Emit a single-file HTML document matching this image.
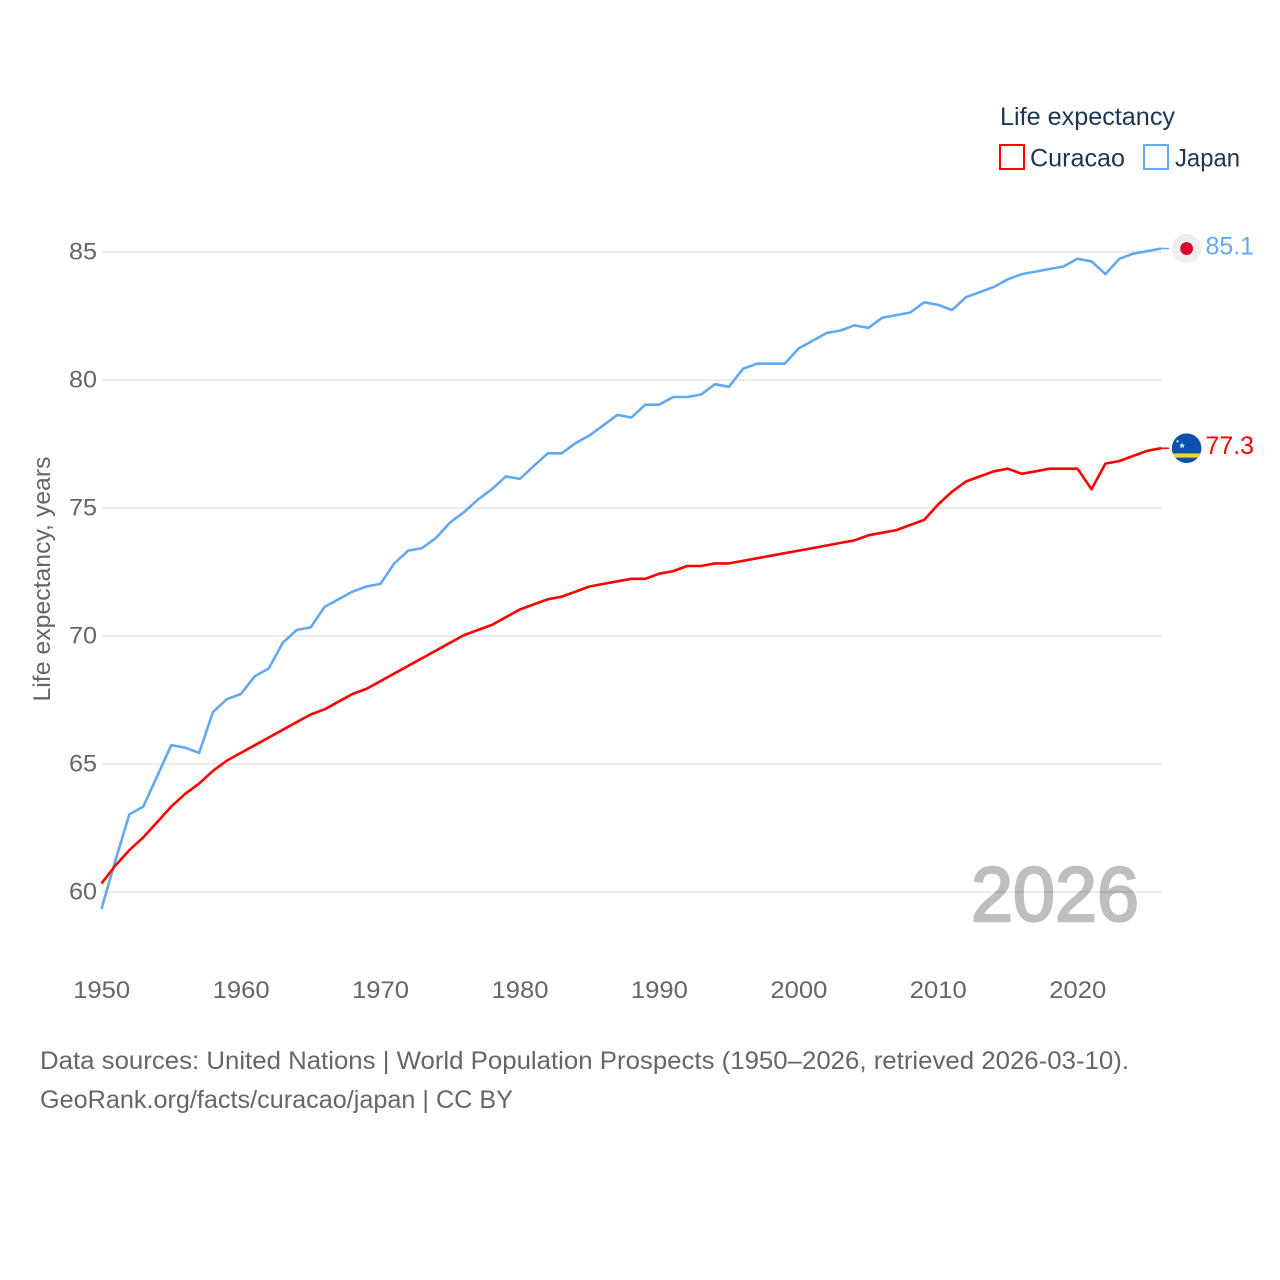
<!DOCTYPE html>
<html lang="en">
<head>
<meta charset="utf-8">
<title>Life expectancy: Curacao and Japan</title>
<style>
html,body{margin:0;padding:0;background:#fff;width:1280px;height:1280px;overflow:hidden}
svg{display:block;font-family:"Liberation Sans",sans-serif}
</style>
</head>
<body>
<svg id="chart" width="1280" height="1280" viewBox="0 0 1280 1280" xmlns="http://www.w3.org/2000/svg">
  <rect width="1280" height="1280" fill="#ffffff"/>
  <g id="grid"></g>
  <g id="yticks"></g>
  <g id="xticks"></g>
  <text transform="translate(50,579) rotate(-90)" text-anchor="middle" font-size="24" fill="#666666" textLength="245" lengthAdjust="spacingAndGlyphs">Life expectancy, years</text>
  <text id="yearLabel" x="1055" y="921" text-anchor="middle" font-size="77" fill="#000000" stroke="#000000" stroke-width="2.4" opacity="0.25" textLength="168" lengthAdjust="spacingAndGlyphs"></text>
  <g id="series" transform="translate(-0.5,-0.9)"></g>
  <g id="ends"></g>

  <g>
    <text x="1000" y="125" font-size="25" fill="#1c3553" textLength="175" lengthAdjust="spacingAndGlyphs">Life expectancy</text>
    <g>
      <rect x="1000" y="145" width="24" height="24" fill="#fff" stroke="#ff0000" stroke-width="2"/>
      <text x="1030" y="166.7" font-size="25" fill="#1c3553" textLength="95" lengthAdjust="spacingAndGlyphs">Curacao</text>
    </g>
    <g>
      <rect x="1144" y="145" width="24" height="24" fill="#fff" stroke="#62a9f0" stroke-width="2"/>
      <text x="1175" y="166.7" font-size="25" fill="#1c3553" textLength="65" lengthAdjust="spacingAndGlyphs">Japan</text>
    </g>
  </g>

  <text x="40" y="1069" font-size="25" fill="#666666" textLength="1089" lengthAdjust="spacingAndGlyphs">Data sources: United Nations | World Population Prospects (1950–2026, retrieved 2026-03-10).</text>
  <text x="40" y="1108" font-size="25" fill="#666666" textLength="473" lengthAdjust="spacingAndGlyphs">GeoRank.org/facts/curacao/japan | CC BY</text>
</svg>
<script>
const years = [1950,1951,1952,1953,1954,1955,1956,1957,1958,1959,1960,1961,1962,1963,1964,1965,1966,1967,1968,1969,1970,1971,1972,1973,1974,1975,1976,1977,1978,1979,1980,1981,1982,1983,1984,1985,1986,1987,1988,1989,1990,1991,1992,1993,1994,1995,1996,1997,1998,1999,2000,2001,2002,2003,2004,2005,2006,2007,2008,2009,2010,2011,2012,2013,2014,2015,2016,2017,2018,2019,2020,2021,2022,2023,2024,2025,2026];
const japanValues = [59.3,61.2,63.0,63.3,64.5,65.7,65.6,65.4,67.0,67.5,67.7,68.4,68.7,69.7,70.2,70.3,71.1,71.4,71.7,71.9,72.0,72.8,73.3,73.4,73.8,74.4,74.8,75.3,75.7,76.2,76.1,76.6,77.1,77.1,77.5,77.8,78.2,78.6,78.5,79.0,79.0,79.3,79.3,79.4,79.8,79.7,80.4,80.6,80.6,80.6,81.2,81.5,81.8,81.9,82.1,82.0,82.4,82.5,82.6,83.0,82.9,82.7,83.2,83.4,83.6,83.9,84.1,84.2,84.3,84.4,84.7,84.6,84.1,84.7,84.9,85.0,85.1];
const curacaoValues = [60.3,61.0,61.6,62.1,62.7,63.3,63.8,64.2,64.7,65.1,65.4,65.7,66.0,66.3,66.6,66.9,67.1,67.4,67.7,67.9,68.2,68.5,68.8,69.1,69.4,69.7,70.0,70.2,70.4,70.7,71.0,71.2,71.4,71.5,71.7,71.9,72.0,72.1,72.2,72.2,72.4,72.5,72.7,72.7,72.8,72.8,72.9,73.0,73.1,73.2,73.3,73.4,73.5,73.6,73.7,73.9,74.0,74.1,74.3,74.5,75.1,75.6,76.0,76.2,76.4,76.5,76.3,76.4,76.5,76.5,76.5,75.7,76.7,76.8,77.0,77.2,77.3];
const xTickLabels = [1950,1960,1970,1980,1990,2000,2010,2020];
const yTickLabels = [60,65,70,75,80,85];

const NS = 'http://www.w3.org/2000/svg';
const plotLeft = 102, plotRight = 1162;
const xOf = function (yr) { return 102 + (yr - 1950) * (1059.7 / 76); };
const yOf = function (v) { return 892 - (v - 60) * 25.6; };

function mk(tag, parent, attrs) {
  const el = document.createElementNS(NS, tag);
  for (const k in attrs) el.setAttribute(k, attrs[k]);
  parent.appendChild(el);
  return el;
}

const grid = document.getElementById('grid');
const yticks = document.getElementById('yticks');
yTickLabels.forEach(function (t) {
  const ln = mk('line', grid, {x1: plotLeft, x2: plotRight, y1: yOf(t), y2: yOf(t), stroke: '#ebebeb', 'stroke-width': 2});
  
  
  const lb = mk('text', yticks, {x: 97, y: yOf(t) + 7.6, 'text-anchor': 'end', 'font-size': 24.5, fill: '#666666', textLength: 28, lengthAdjust: 'spacingAndGlyphs'});
  
  
  lb.textContent = t;
});

const xticks = document.getElementById('xticks');
xTickLabels.forEach(function (t) {
  const lb = mk('text', xticks, {x: xOf(t) - 0.3, y: 998, 'text-anchor': 'middle', 'font-size': 24.5, fill: '#666666', textLength: 57, lengthAdjust: 'spacingAndGlyphs'});
  
  
  lb.textContent = t;
});

const seriesG = document.getElementById('series');
const endsG = document.getElementById('ends');
function drawSeries(values, color, key) {
  const pts = values.map(function (v, i) { return xOf(years[i]).toFixed(1) + ',' + yOf(v).toFixed(1); });
  const endY = yOf(values[values.length - 1]);
  const lastY = endY - 0.9;
  const line = mk('polyline', seriesG, {points: pts.join(' '), fill: 'none', stroke: color, 'stroke-width': 2.6, 'stroke-linejoin': 'round'});
  
  
  const tail = mk('line', seriesG, {x1: xOf(years[years.length - 1]), x2: 1169.5, y1: endY, y2: endY, stroke: color, 'stroke-width': 1.5});
  
  
  const lab = mk('text', endsG, {x: 1205.5, y: lastY + 5.8, 'font-size': 25, fill: color, textLength: 48.5, lengthAdjust: 'spacingAndGlyphs'});
  
  
  lab.textContent = values[values.length - 1].toFixed(1);
  return lastY;
}
const japanY = drawSeries(japanValues, '#62a9f0', 'japan');
const curacaoY = drawSeries(curacaoValues, '#ff0000', 'curacao');

document.getElementById('yearLabel').textContent = years[years.length - 1];

/* Japan flag marker */
const jp = mk('g', endsG, {transform: 'translate(1186.6,' + japanY + ')'});


mk('circle', jp, {r: 14.7, fill: '#eeeeee'});
mk('circle', jp, {r: 6.4, fill: '#dc0030'});

/* Curacao flag marker */
const defs = mk('defs', endsG, {});
const clip = mk('clipPath', defs, {id: 'cwClip'});
mk('circle', clip, {r: 14.8});
const cw = mk('g', endsG, {transform: 'translate(1186.6,' + curacaoY + ')', 'clip-path': 'url(#cwClip)'});


mk('rect', cw, {x: -15, y: -15, width: 30, height: 30, fill: '#0a50ad'});
mk('rect', cw, {x: -15, y: 5.2, width: 30, height: 4.2, fill: '#f7d132'});
mk('polygon', cw, {points: '-4.5,-5.8 -3.7,-3.6 -1.6,-3.6 -3.2,-2.2 -2.6,0 -4.5,-1.3 -6.4,0 -5.8,-2.2 -7.4,-3.6 -5.3,-3.6', fill: '#e8eef8'});
mk('circle', cw, {cx: -9, cy: -6.8, r: 1.2, fill: '#dfe8f5'});
</script>
</body>
</html>
